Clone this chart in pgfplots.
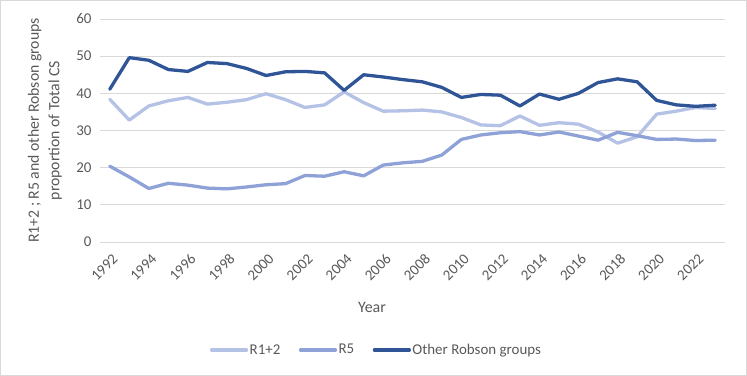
\documentclass[border=0pt]{standalone}
\usepackage{fontspec}
\setmainfont{Carlito}
\usepackage{pgfplots}
\pgfplotsset{compat=1.18}

\definecolor{rA}{HTML}{B4C2E6}
\definecolor{rB}{HTML}{8EA2D8}
\definecolor{rC}{HTML}{2F5597}
\definecolor{gridc}{HTML}{D9D9D9}
\definecolor{txt}{HTML}{595959}

\begin{document}
\begin{tikzpicture}
\useasboundingbox (0bp,0bp) rectangle (747bp,376bp);
\draw[gridc, line width=0.8bp] (0.5bp,0.5bp) rectangle (746.5bp,375.5bp);
\begin{axis}[
  at={(100bp,134bp)}, anchor=south west,
  scale only axis, width=625bp, height=223bp,
  xmin=1991.5, xmax=2023.5,
  ymin=0, ymax=60,
  xtick={1992,1994,...,2022},
  ytick={0,10,...,60},
  axis line style={draw=none},
  major tick length=0pt,
  ymajorgrids, grid style={gridc, line width=0.8bp},
  /pgf/number format/assume math mode=true,
  /pgf/number format/1000 sep={},
  tick label style={font=\fontsize{15}{17}\selectfont, text=txt},
  yticklabel style={xshift=-5bp},
  xticklabel style={rotate=45, anchor=east, xshift=-3bp, yshift=-14bp},
  clip=false,
  legend style={at={(0.442,-0.484)}, anchor=center, draw=none, fill=none,
    legend columns=3, font=\fontsize{15}{17}\selectfont, text=txt,
    nodes={inner xsep=1.5bp},
    /tikz/every even column/.append style={column sep=17bp}},
  legend image code/.code={\draw[#1, line width=3.2bp] (0bp,0bp) -- (35bp,0bp);},
  every axis plot/.append style={line width=3.3bp, line join=round, line cap=round},
]
\addplot[rA, mark=none] coordinates {
(1992,38.4) (1993,32.8) (1994,36.6) (1995,38.0) (1996,38.9) (1997,37.1)
(1998,37.6) (1999,38.3) (2000,39.9) (2001,38.3) (2002,36.2) (2003,36.9)
(2004,40.4) (2005,37.5) (2006,35.2) (2007,35.3) (2008,35.5) (2009,35.0)
(2010,33.5) (2011,31.5) (2012,31.3) (2013,33.9) (2014,31.4) (2015,32.1)
(2016,31.7) (2017,29.6) (2018,26.6) (2019,28.3) (2020,34.4) (2021,35.2)
(2022,36.2) (2023,35.9)};
\addlegendentry{R1+2}
\addplot[rB, mark=none] coordinates {
(1992,20.4) (1993,17.5) (1994,14.4) (1995,15.8) (1996,15.3) (1997,14.5)
(1998,14.3) (1999,14.8) (2000,15.4) (2001,15.7) (2002,17.9) (2003,17.7)
(2004,18.9) (2005,17.8) (2006,20.7) (2007,21.3) (2008,21.7) (2009,23.4)
(2010,27.6) (2011,28.8) (2012,29.4) (2013,29.7) (2014,28.8) (2015,29.6)
(2016,28.5) (2017,27.4) (2018,29.5) (2019,28.6) (2020,27.6) (2021,27.7)
(2022,27.3) (2023,27.4)};
\addlegendentry{R5}
\addplot[rC, mark=none] coordinates {
(1992,41.1) (1993,49.6) (1994,48.9) (1995,46.4) (1996,45.9) (1997,48.3)
(1998,48.0) (1999,46.7) (2000,44.8) (2001,45.8) (2002,45.9) (2003,45.5)
(2004,40.8) (2005,45.0) (2006,44.4) (2007,43.7) (2008,43.1) (2009,41.6)
(2010,38.9) (2011,39.7) (2012,39.5) (2013,36.6) (2014,39.8) (2015,38.4)
(2016,40.0) (2017,42.9) (2018,43.9) (2019,43.1) (2020,38.1) (2021,36.9)
(2022,36.5) (2023,36.8)};
\addlegendentry{Other Robson groups}
\end{axis}
\node[text=txt, font=\fontsize{16}{18}\selectfont] at (372bp,69bp) {Year};
\node[text=txt, font=\fontsize{15.8}{20.5}\selectfont, rotate=90, align=center] at (45bp,245.5bp) {R1+2 ; R5 and other Robson groups\\proportion of Total CS};
\end{tikzpicture}
\end{document}
